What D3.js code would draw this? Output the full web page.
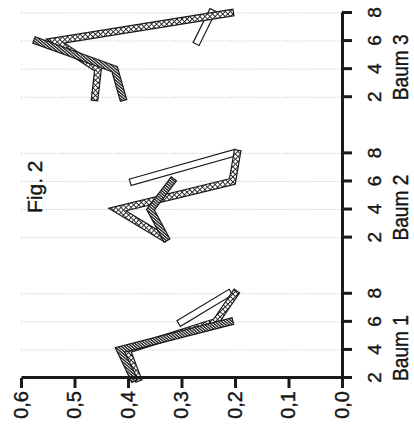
<!DOCTYPE html>
<html>
<head>
<meta charset="utf-8">
<script src="https://cdn.jsdelivr.net/npm/d3@7"></script>
<style>
  html, body { margin: 0; padding: 0; background: #fff; }
  svg { display: block; }
  text { font-family: "Liberation Sans", Arial, Helvetica, sans-serif; fill: #151515; }
</style>
</head>
<body>
<script>
// ---- data ----
const groups = ["Baum 1", "Baum 2", "Baum 3"];
const ages = [2, 4, 6, 8];
const valueTicks = [0, 0.1, 0.2, 0.3, 0.4, 0.5, 0.6];
const title = "Fig. 2";
// one row per Baum, one value per age (2,4,6,8); null = no value
const seriesDark = [
  [0.390, 0.415, 0.210, null],
  [0.330, 0.358, 0.318, null],
  [0.410, 0.425, 0.570, null]
];
const seriesCross = [
  [0.382, 0.402, 0.236, 0.200],
  [0.333, 0.420, 0.205, 0.196],
  [0.462, 0.456, 0.536, 0.209]
];
const seriesOpen = [
  [null, null, 0.300, 0.213],
  [null, null, 0.390, 0.204],
  [null, null, 0.270, 0.244]
];

// ---- layout ----
const W = 414, H = 435;
const innerW = 365, innerH = 321;   // category span, value span (before rotation)
const svg = d3.select("body").append("svg").attr("width", W).attr("height", H);

const defs = svg.append("defs");
const pd = defs.append("pattern").attr("id", "patDark")
  .attr("patternUnits", "userSpaceOnUse").attr("width", 2.2).attr("height", 2.2)
  .attr("patternTransform", "rotate(40)");
pd.append("rect").attr("width", 2.2).attr("height", 2.2).attr("fill", "#fff");
pd.append("rect").attr("width", 1.35).attr("height", 2.2).attr("fill", "#222");

const pc = defs.append("pattern").attr("id", "patCross")
  .attr("patternUnits", "userSpaceOnUse").attr("width", 3.6).attr("height", 3.6)
  .attr("patternTransform", "rotate(45)");
pc.append("rect").attr("width", 3.6).attr("height", 3.6).attr("fill", "#fff");
pc.append("rect").attr("width", 0.9).attr("height", 3.6).attr("fill", "#222");
pc.append("rect").attr("width", 3.6).attr("height", 0.9).attr("fill", "#222");

const g = svg.append("g").attr("transform", "translate(21,378) rotate(-90)");

const pos = (gi, ai) => gi * 5 + ai;
const x = d3.scaleLinear().domain([0, 13]).range([0, innerW]);
const y = d3.scaleLinear().domain([0, 0.6]).range([innerH, 0]);

const tickPos = [];
const tickLab = [];
groups.forEach((gr, gi) => ages.forEach((a, ai) => { tickPos.push(pos(gi, ai)); tickLab.push(a); }));

// gridlines
g.append("g").selectAll("line").data(tickPos.slice(1)).join("line")
  .attr("x1", d => x(d)).attr("x2", d => x(d))
  .attr("y1", y(0.6)).attr("y2", y(0))
  .attr("stroke", "#a0a0a0").attr("stroke-width", 1)
  .attr("stroke-dasharray", "1 1.8").attr("opacity", 0.7);

// title
g.append("text").attr("x", 165).attr("y", 21).attr("font-size", 21)
  .attr("stroke", "#151515").attr("stroke-width", 0.4).text(title);

// series ribbons
const line = d3.line()
  .defined(d => d.v !== null)
  .x(d => x(d.p)).y(d => y(d.v));

function drawSeries(data, fill) {
  const sg = g.append("g");
  data.forEach((row, gi) => {
    const pts = row.map((v, ai) => ({ p: pos(gi, ai), v: v }));
    const dstr = line(pts);
    sg.append("path").attr("d", dstr).attr("fill", "none")
      .attr("stroke", "#1a1a1a").attr("stroke-width", 7.8)
      .attr("stroke-linejoin", "miter").attr("stroke-miterlimit", 6)
      .attr("stroke-linecap", "square");
    sg.append("path").attr("d", dstr).attr("fill", "none")
      .attr("stroke", fill).attr("stroke-width", 5.4)
      .attr("stroke-linejoin", "miter").attr("stroke-miterlimit", 6)
      .attr("stroke-linecap", "square");
  });
}
drawSeries(seriesOpen, "#fff");
drawSeries(seriesCross, "url(#patCross)");
drawSeries(seriesDark, "url(#patDark)");

// category axis (appears on the right)
const xAxis = d3.axisBottom(x).tickValues(tickPos)
  .tickFormat((d, i) => tickLab[i]).tickSize(10).tickSizeOuter(0).tickPadding(16);
const xg = g.append("g").attr("transform", `translate(0,${innerH})`).call(xAxis);
xg.select(".domain").attr("stroke", "#1a1a1a").attr("stroke-width", 3);
xg.selectAll(".tick line").attr("stroke", "#1a1a1a").attr("stroke-width", 3);
xg.selectAll(".tick text").attr("font-size", 19).attr("fill", "#151515")
  .attr("stroke", "#151515").attr("stroke-width", 0.4)
  .attr("font-family", '"Liberation Sans", Arial, sans-serif');

// group labels
g.append("g").selectAll("text").data(groups).join("text")
  .attr("x", (d, gi) => x(pos(gi, 0)) - 3)
  .attr("y", innerH + 66)
  .attr("font-size", 22)
  .attr("textLength", 66).attr("lengthAdjust", "spacingAndGlyphs")
  .attr("stroke", "#151515").attr("stroke-width", 0.4)
  .text(d => d);

// value axis (appears at the bottom)
const yAxis = d3.axisLeft(y).tickValues(valueTicks)
  .tickFormat(d => d.toFixed(1).replace(".", ","))
  .tickSize(10).tickSizeOuter(0).tickPadding(3);
const yg = g.append("g").call(yAxis);
yg.select(".domain").attr("stroke", "#1a1a1a").attr("stroke-width", 3);
yg.selectAll(".tick line").attr("stroke", "#1a1a1a").attr("stroke-width", 3);
yg.selectAll(".tick text").attr("font-size", 20).attr("fill", "#151515")
  .attr("stroke", "#151515").attr("stroke-width", 0.4)
  .attr("font-family", '"Liberation Sans", Arial, sans-serif');
</script>
</body>
</html>
